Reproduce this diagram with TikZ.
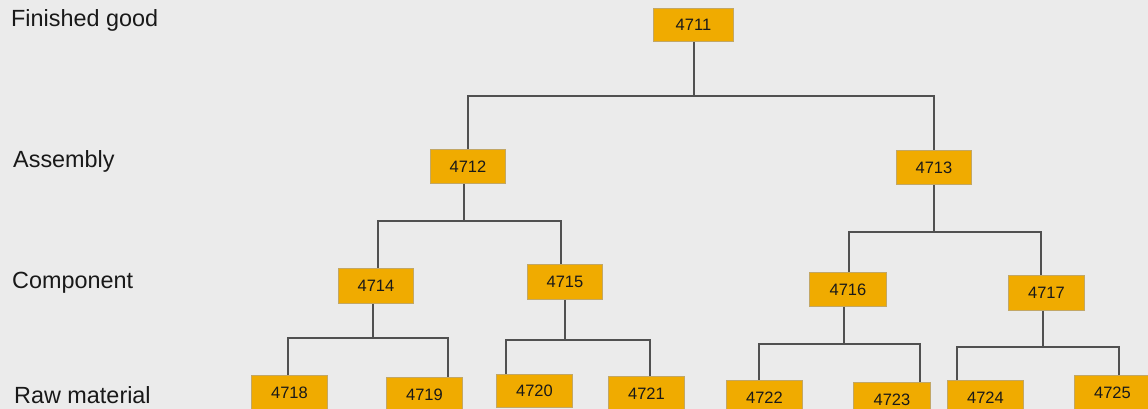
\documentclass[tikz,border=0pt]{standalone}
\usepackage{fontspec}
\setmainfont{Liberation Sans}
\definecolor{bg}{HTML}{EBEBEB}
\definecolor{boxfill}{HTML}{F0AB00}
\definecolor{boxline}{HTML}{C2A766}
\definecolor{conncol}{HTML}{505050}
\begin{document}
\begin{tikzpicture}[x=1pt,y=-1pt,
  bom/.style={draw=boxline,line width=0.9pt,fill=boxfill,anchor=north west,
    minimum width=76pt,minimum height=34pt,inner sep=0pt,
    font=\fontsize{16.5}{18}\selectfont,text=black!90},
  conn/.style={draw=conncol,line width=1.1pt},
  lvl/.style={anchor=base west,inner sep=0pt,font=\fontsize{23.4}{27}\selectfont,text=black!90}]
\useasboundingbox (0,0) rectangle (1148,409);
\fill[bg] (0,0) rectangle (1148,409);
\begin{scope}
\clip (0,0) rectangle (1148,409);
% level labels
\node[lvl] (l1) at (11,27) {Finished good};
\node[lvl] (l2) at (13,167) {Assembly};
\node[lvl] (l3) at (12,288) {Component};
\node[lvl] (l4) at (14,403) {Raw material};
% junction points
\coordinate (j1) at (694,96);
\coordinate (j2) at (464,221);
\coordinate (j3) at (934,232);
\coordinate (j4) at (373,338);
\coordinate (j5) at (565,340);
\coordinate (j6) at (844,344);
\coordinate (j7) at (1043,347);
% nodes
\node[bom,minimum width=80pt,minimum height=33pt] (n4711) at (653,8) {4711};
\node[bom,minimum width=75pt] (n4712) at (430,149) {4712};
\node[bom,minimum width=75pt] (n4713) at (896,150) {4713};
\node[bom,minimum width=75pt,minimum height=35pt] (n4714) at (338,268) {4714};
\node[bom,minimum width=75pt,minimum height=35pt] (n4715) at (527,264) {4715};
\node[bom,minimum width=77pt] (n4716) at (809,272) {4716};
\node[bom,minimum height=35pt] (n4717) at (1008,275) {4717};
\node[bom] (n4718) at (251,375) {4718};
\node[bom] (n4719) at (386,377) {4719};
\node[bom,minimum height=33pt] (n4720) at (496,374) {4720};
\node[bom] (n4721) at (608,376) {4721};
\node[bom] (n4722) at (726,380) {4722};
\node[bom,minimum width=77pt] (n4723) at (853,382) {4723};
\node[bom] (n4724) at (947,380) {4724};
\node[bom] (n4725) at (1074,375) {4725};
% connectors
\draw[conn] (n4711.south -| j1) -- (j1);
\draw[conn] (j1) -| ([xshift=38pt]n4712.north west);
\draw[conn] (j1) -| ([xshift=38pt]n4713.north west);
\draw[conn] (n4712.south -| j2) -- (j2);
\draw[conn] (j2) -| ([xshift=40pt]n4714.north west);
\draw[conn] (j2) -| ([xshift=34pt]n4715.north west);
\draw[conn] (n4713.south -| j3) -- (j3);
\draw[conn] (j3) -| ([xshift=40pt]n4716.north west);
\draw[conn] (j3) -| ([xshift=33pt]n4717.north west);
\draw[conn] (n4714.south -| j4) -- (j4);
\draw[conn] (j4) -| ([xshift=37pt]n4718.north west);
\draw[conn] (j4) -| ([xshift=62pt]n4719.north west);
\draw[conn] (n4715.south -| j5) -- (j5);
\draw[conn] (j5) -| ([xshift=10pt]n4720.north west);
\draw[conn] (j5) -| ([xshift=42pt]n4721.north west);
\draw[conn] (n4716.south -| j6) -- (j6);
\draw[conn] (j6) -| ([xshift=33pt]n4722.north west);
\draw[conn] (j6) -| ([xshift=67pt]n4723.north west);
\draw[conn] (n4717.south -| j7) -- (j7);
\draw[conn] (j7) -| ([xshift=10pt]n4724.north west);
\draw[conn] (j7) -| ([xshift=45pt]n4725.north west);
\end{scope}
\end{tikzpicture}
\end{document}
